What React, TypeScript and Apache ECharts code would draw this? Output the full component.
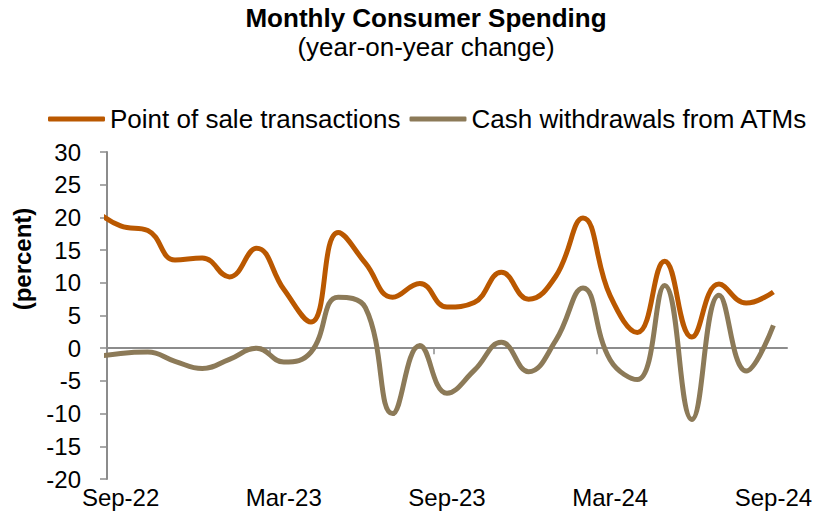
import React, { useEffect, useRef } from "react";
import * as echarts from "echarts";

const months = [
  "Sep-22", "Oct-22", "Nov-22", "Dec-22", "Jan-23", "Feb-23", "Mar-23", "Apr-23", "May-23",
  "Jun-23", "Jul-23", "Aug-23", "Sep-23", "Oct-23", "Nov-23", "Dec-23", "Jan-24", "Feb-24",
  "Mar-24", "Apr-24", "May-24", "Jun-24", "Jul-24", "Aug-24", "Sep-24",
];

// Value of the month before the first shown month (Aug-22); its segment is clipped by the plot area
const posLeadIn = 21.3;
const atmLeadIn = -1.4;

const pointOfSale = [
  18.7, 18.0, 13.5, 13.8, 10.9, 15.3, 9.0, 4.0, 17.7,
  13.0, 7.8, 9.9, 6.3, 7.0, 11.6, 7.5, 11.0, 19.9,
  8.0, 2.4, 13.3, 1.7, 9.8, 6.9, 8.6,
];

const atmWithdrawals = [
  -0.8, -0.6, -2.0, -3.1, -1.7, 0.0, -2.1, -0.6, 7.8,
  6.2, -10.0, 0.4, -6.9, -3.4, 0.9, -3.6, 1.2, 9.2,
  -1.8, -4.8, 9.6, -10.9, 8.1, -3.5, 3.5,
];

const seriesNames = ["Point of sale transactions", "Cash withdrawals from ATMs"];
const yTicks = { min: -20, max: 30, step: 5 };
const labelEvery = 6;

const FONT = "'Liberation Sans', Arial, sans-serif";
const ORANGE = "#BA5800";
const TAUPE = "#8C7A58";
const AXIS = "#8C8C8C";

export default function App() {
  const ref = useRef<HTMLDivElement>(null);

  useEffect(() => {
    document.body.style.margin = "0";
    if (!ref.current) return;
    const chart = echarts.init(ref.current, undefined, { renderer: "svg" });

    const toData = (lead: number, vals: number[]) => [
      [-1, lead],
      ...vals.map((v, i) => [i, v]),
    ];

    const tickBoundaries: number[] = [];
    for (let i = 0; i < months.length; i += labelEvery) tickBoundaries.push(i - 0.5);

    chart.setOption({
      animation: false,
      backgroundColor: "#fff",
      textStyle: { fontFamily: FONT },
      graphic: [
        {
          type: "text",
          x: 426,
          y: 18,
          style: {
            text: "Monthly Consumer Spending",
            font: `bold 26px ${FONT}`,
            fill: "#000",
            align: "center",
            verticalAlign: "middle",
          },
        },
        {
          type: "text",
          x: 426,
          y: 47,
          style: {
            text: "(year-on-year change)",
            font: `26px ${FONT}`,
            fill: "#000",
            align: "center",
            verticalAlign: "middle",
          },
        },
        {
          type: "text",
          x: 22,
          y: 259,
          rotation: Math.PI / 2,
          style: {
            text: "(percent)",
            font: `bold 24px ${FONT}`,
            fill: "#000",
            align: "center",
            verticalAlign: "middle",
          },
        },
      ],
      legend: {
        data: seriesNames,
        left: 43,
        top: 99,
        icon: "roundRect",
        itemWidth: 57,
        itemHeight: 5,
        itemGap: 9,
        textStyle: { fontSize: 26, color: "#000", fontFamily: FONT, lineHeight: 30 },
      },
      grid: { left: 107, right: 33, top: 152, bottom: 48, containLabel: false },
      xAxis: [
        {
          type: "category",
          data: months,
          position: "bottom",
          boundaryGap: true,
          axisLine: { show: false, onZero: false },
          axisTick: { show: false },
          axisLabel: {
            interval: labelEvery - 1,
            fontSize: 24,
            color: "#000",
            fontFamily: FONT,
            margin: 6,
          },
          splitLine: { show: false },
        },
        {
          type: "value",
          position: "bottom",
          min: -0.5,
          max: months.length - 0.5,
          axisLine: { show: true, onZero: true, lineStyle: { color: AXIS, width: 2 } },
          axisTick: {
            show: true,
            length: 6,
            customValues: tickBoundaries,
            lineStyle: { color: AXIS, width: 1.5 },
          },
          axisLabel: { show: false },
          splitLine: { show: false },
        },
      ],
      yAxis: {
        type: "value",
        min: yTicks.min,
        max: yTicks.max,
        interval: yTicks.step,
        axisLine: { show: true, onZero: false, lineStyle: { color: AXIS, width: 2 } },
        axisTick: { show: true, length: 7, lineStyle: { color: AXIS, width: 1.5 } },
        axisLabel: { fontSize: 24, color: "#000", fontFamily: FONT, margin: 26 },
        splitLine: { show: false },
      },
      series: [
        {
          name: seriesNames[0],
          type: "line",
          xAxisIndex: 1,
          data: toData(posLeadIn, pointOfSale),
          smooth: 0.45,
          showSymbol: false,
          symbol: "none",
          clip: true,
          lineStyle: { color: ORANGE, width: 5 },
          itemStyle: { color: ORANGE },
        },
        {
          name: seriesNames[1],
          type: "line",
          xAxisIndex: 1,
          data: toData(atmLeadIn, atmWithdrawals),
          smooth: 0.45,
          showSymbol: false,
          symbol: "none",
          clip: true,
          lineStyle: { color: TAUPE, width: 5 },
          itemStyle: { color: TAUPE },
        },
      ],
    });

    return () => chart.dispose();
  }, []);

  return <div ref={ref} style={{ width: 820, height: 527 }} />;
}
